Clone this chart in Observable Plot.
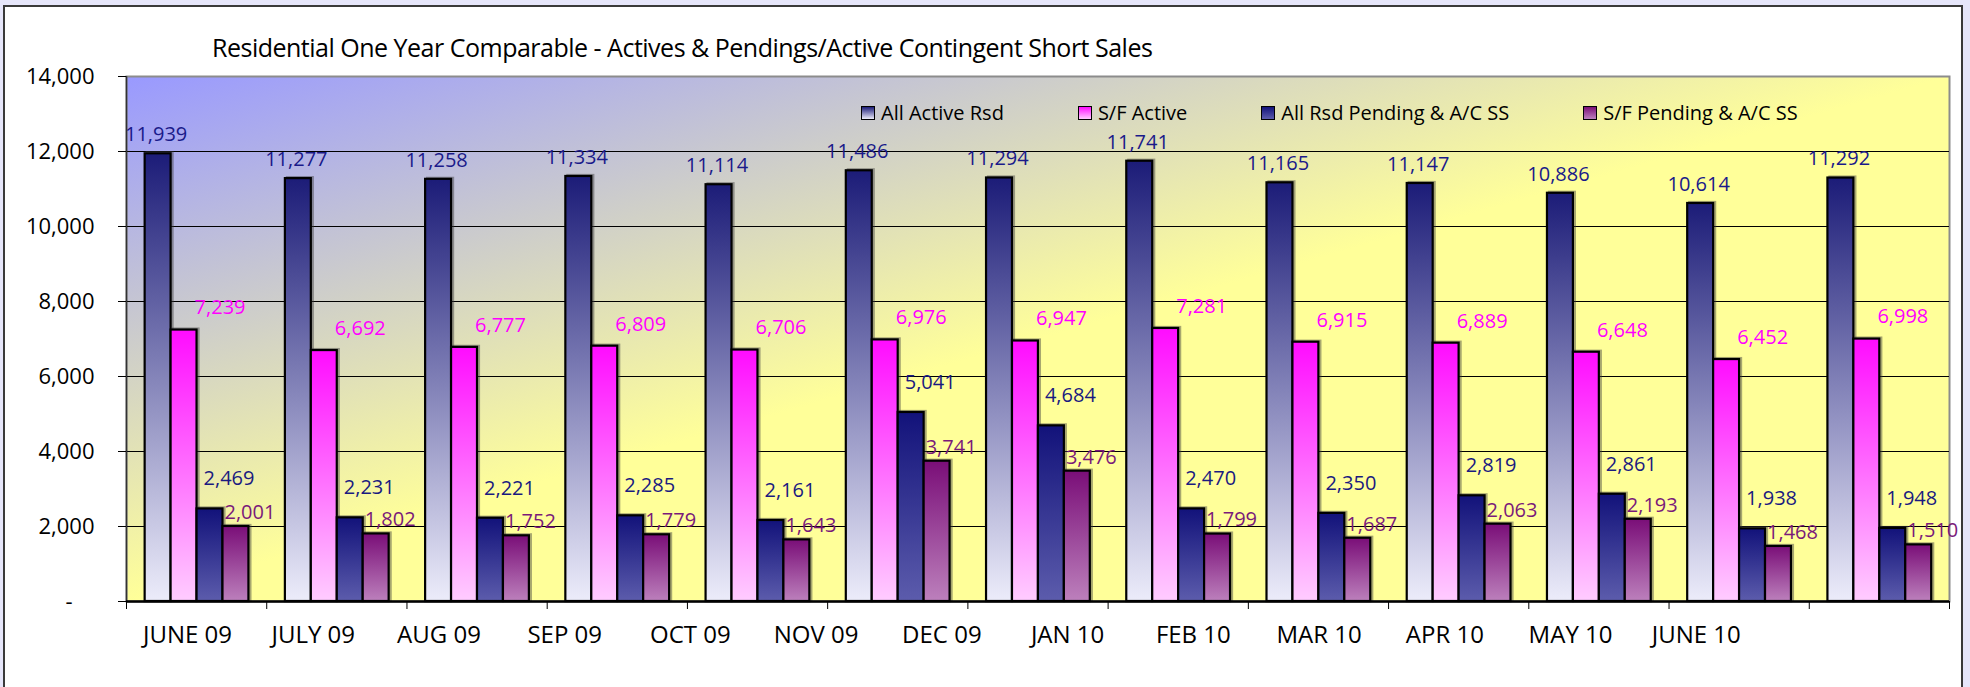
<!DOCTYPE html>
<html><head><meta charset="utf-8">
<script src="https://cdn.jsdelivr.net/npm/d3@7"></script>
<script src="https://cdn.jsdelivr.net/npm/@observablehq/plot@0.6"></script>
<style>
html,body{margin:0;padding:0;}
body{width:1970px;height:687px;background:#e6e6fa;position:relative;overflow:hidden;font-family:'Open Sans',sans-serif;}
#frame{position:absolute;left:3px;top:5px;width:1960px;height:740px;background:#fff;border:2px solid #3a3a3a;box-sizing:border-box;}
#chart{position:absolute;left:0;top:0;}
#title{position:absolute;left:212px;top:47px;transform:translateY(-50%);font-size:25px;letter-spacing:-0.5px;white-space:nowrap;color:#000;line-height:1;}
#legend{position:absolute;left:861px;top:113px;transform:translateY(-50%);display:flex;align-items:center;font-size:20px;white-space:nowrap;line-height:1;color:#000;}
.item{display:flex;align-items:center;margin-right:74px;}
.sw{width:12px;height:12px;border:1.5px solid #000;margin-right:6px;}
svg g[aria-label="rect"] rect{filter:drop-shadow(2px -1px 0.5px rgba(60,60,60,0.45));}
</style></head><body>
<div id="frame"></div>
<div id="chart"></div>
<div id="title">Residential One Year Comparable - Actives &amp; Pendings/Active Contingent Short Sales</div>
<div id="legend"></div>
<script>
const months = ["JUNE 09","JULY 09","AUG 09","SEP 09","OCT 09","NOV 09","DEC 09","JAN 10","FEB 10","MAR 10","APR 10","MAY 10","JUNE 10"];
const allActive  = [11939,11277,11258,11334,11114,11486,11294,11741,11165,11147,10886,10614,11292];
const sfActive   = [7239,6692,6777,6809,6706,6976,6947,7281,6915,6889,6648,6452,6998];
const allPending = [2469,2231,2221,2285,2161,5041,4684,2470,2350,2819,2861,1938,1948];
const sfPending  = [2001,1802,1752,1779,1643,3741,3476,1799,1687,2063,2193,1468,1510];
const seriesNames = ["All Active Rsd","S/F Active","All Rsd Pending & A/C SS","S/F Pending & A/C SS"];
const yTicks = [0,2000,4000,6000,8000,10000,12000,14000];

const seriesValues = [allActive, sfActive, allPending, sfPending];
const grads = [["#1c1c78","#ececfa"],["#ff0cff","#ffccff"],["#12127a","#5c5cac"],["#7a0e78","#bc80bc"]];
const labelColors = ["#1a1a8a","#ff00ff","#1a1a80","#7a1a7a"];
const labelOffsets = [[-2,-19],[36,-22],[19,-30],[14,-14]];
const BAR_START = 0.133, BAR_W = 0.185;
const LABEL_START = 0.435, LABEL_STEP = 0.8966;

const rows = seriesValues.flatMap((vals, j) => vals.map((v, i) => ({i, j, value: v, name: seriesNames[j]})));
const fmt = d3.format(",");

const marks = [
  Plot.frame({fill: "url(#bg)", stroke: "#8c8c8c", strokeWidth: 2}),
  Plot.ruleY(yTicks.filter(t => t > 0 && t < 14000), {stroke: "#000", strokeWidth: 1.2})
];
seriesNames.forEach((name, j) => {
  marks.push(Plot.rect(rows.filter(d => d.j === j), {
    x1: d => d.i + BAR_START + j * BAR_W,
    x2: d => d.i + BAR_START + (j + 1) * BAR_W,
    y1: 0, y2: "value",
    fill: `url(#grad${j})`, stroke: "#000", strokeWidth: 2.2
  }));
});
seriesNames.forEach((name, j) => {
  marks.push(Plot.text(rows.filter(d => d.j === j), {
    x: d => d.i + BAR_START + (j + 0.5) * BAR_W,
    y: "value",
    text: d => fmt(d.value),
    dx: labelOffsets[j][0], dy: labelOffsets[j][1],
    fill: labelColors[j], fontSize: 20
  }));
});
marks.push(
  Plot.ruleX([0], {y1: 0, y2: 14000, stroke: "#333", strokeWidth: 1.5}),
  Plot.ruleY([0], {stroke: "#000", strokeWidth: 2.5}),
  Plot.axisY(yTicks, {tickSize: 8, tickPadding: 24, tickFormat: d => d === 0 ? "-\u2002\u2002" : fmt(d), fontSize: 22, fill: "#000", label: null}),
  Plot.axisX(d3.range(14), {tickSize: 8, tickFormat: () => "", label: null}),
  Plot.text(months, {x: (d, i) => LABEL_START + i * LABEL_STEP, frameAnchor: "bottom", dy: 41, text: d => d, fontSize: 24, fill: "#000"})
);

const chart = Plot.plot({
  width: 1970, height: 687,
  marginLeft: 126, marginRight: 21, marginTop: 76, marginBottom: 86,
  x: {domain: [0, 13]},
  y: {domain: [0, 14000]},
  style: {background: "transparent", fontFamily: "'Open Sans', sans-serif", overflow: "visible"},
  marks
});

const defs = d3.select(chart).insert("defs", ":first-child");
const bg = defs.append("linearGradient").attr("id", "bg").attr("x1", 0).attr("y1", 0).attr("x2", 1).attr("y2", 1);
bg.append("stop").attr("offset", 0).attr("stop-color", "#9999ff");
bg.append("stop").attr("offset", 0.5).attr("stop-color", "#ffff99");
bg.append("stop").attr("offset", 1).attr("stop-color", "#ffff99");
grads.forEach(([a, b], j) => {
  const g = defs.append("linearGradient").attr("id", "grad" + j).attr("x1", 0).attr("y1", 0).attr("x2", 0).attr("y2", 1);
  g.append("stop").attr("offset", 0).attr("stop-color", a);
  g.append("stop").attr("offset", 1).attr("stop-color", b);
});
document.getElementById("chart").appendChild(chart);

const legend = d3.select("#legend");
seriesNames.forEach((name, j) => {
  const item = legend.append("div").attr("class", "item");
  item.append("div").attr("class", "sw").style("background", `linear-gradient(to bottom, ${grads[j][0]}, ${grads[j][1]})`);
  item.append("span").text(name);
});
</script>
</body></html>
